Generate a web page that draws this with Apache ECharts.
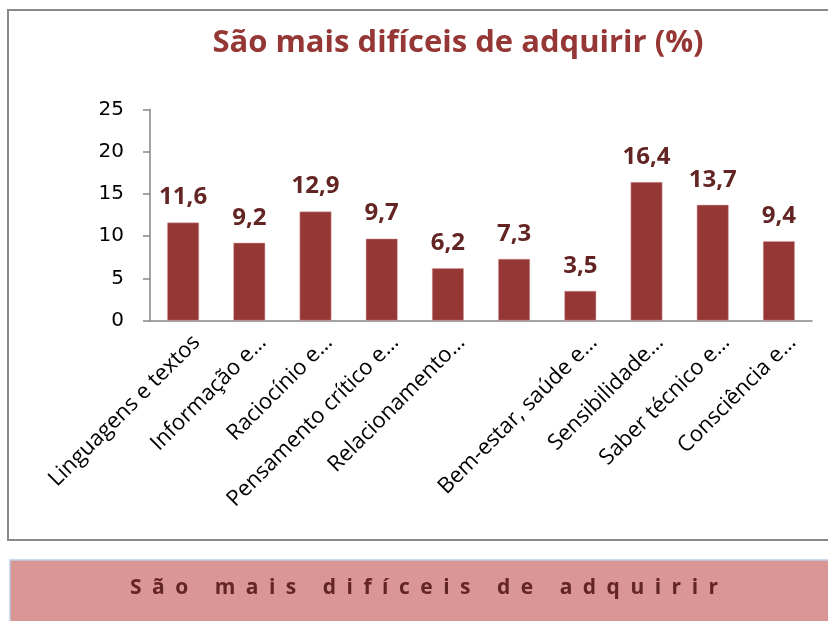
<!DOCTYPE html>
<html><head><meta charset="utf-8">
<script src="https://cdn.jsdelivr.net/npm/echarts@6/dist/echarts.min.js"></script>
<style>html,body{margin:0;padding:0;background:#fff}#c{width:828px;height:621px}</style>
</head><body><div id="c"></div>
<script>
const categories = ["Linguagens e textos","Informação e…","Raciocínio e…","Pensamento crítico e…","Relacionamento…","","Bem-estar, saúde e…","Sensibilidade…","Saber técnico e…","Consciência e…"];
const values = [11.6, 9.2, 12.9, 9.7, 6.2, 7.3, 3.5, 16.4, 13.7, 9.4];
const yTicks = [0, 5, 10, 15, 20, 25];
const titleText = "São mais difíceis de adquirir (%)";
const bannerText = "São mais difíceis de adquirir";

const chart = echarts.init(document.getElementById('c'));
const spaced = bannerText.split('').join('\u2002');
chart.setOption({
  animation: false,
  grid: {left: 150, right: 16, top: 109.5, bottom: 300.5},
  xAxis: {
    type: 'category', data: categories,
    axisLine: {lineStyle: {color: '#868686', width: 1.5}},
    axisTick: {length: 6, lineStyle: {color: '#868686', width: 1.5}},
    axisLabel: {rotate: 45, interval: 0, color: '#000', fontSize: 22, fontFamily: '"Open Sans", sans-serif',
      margin: 5, verticalAlign: 'top', padding: [8, 0, 0, 0]}
  },
  yAxis: {
    type: 'value', min: yTicks[0], max: yTicks[yTicks.length-1], interval: 5,
    axisLine: {show: true, lineStyle: {color: '#868686', width: 1.5}},
    axisTick: {show: true, length: 7, lineStyle: {color: '#868686', width: 1.5}},
    splitLine: {show: false},
    axisLabel: {color: '#000', fontSize: 20, fontFamily: '"DejaVu Sans", sans-serif', margin: 26}
  },
  series: [{
    type: 'bar', data: values, barWidth: '48%',
    itemStyle: {color: '#953735', borderColor: '#d9a0a0', borderWidth: 0.5},
    label: {show: true, position: 'top', distance: 13, color: '#632523', fontSize: 24, fontWeight: 'bold',
      fontFamily: '"Open Sans", sans-serif',
      formatter: p => String(p.value).replace('.', ',')}
  }],
  graphic: [
    {type: 'rect', shape: {x: 8, y: 10, width: 840, height: 530}, style: {fill: 'none', stroke: '#8a8a8a', lineWidth: 2}, z: -1},
    {type: 'text', x: 458, y: 43, style: {text: titleText, fill: '#953735', font: 'bold 31px "Liberation Sans Narrow", "Open Sans", sans-serif', textAlign: 'center', textVerticalAlign: 'middle'}},
    {type: 'rect', shape: {x: 10, y: 560, width: 830, height: 70}, style: {fill: '#d99694', stroke: '#b9cde5', lineWidth: 1.5}},
    {type: 'text', x: 424, y: 588, style: {text: spaced, fill: '#632523', font: 'bold 21px "Open Sans", sans-serif', textAlign: 'center', textVerticalAlign: 'middle'}}
  ]
});
</script></body></html>
